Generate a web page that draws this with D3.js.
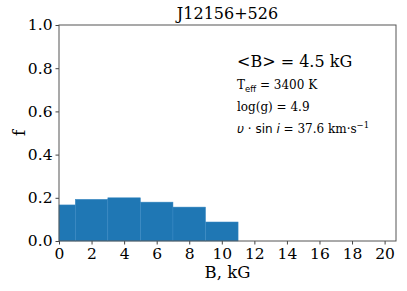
<!DOCTYPE html>
<html>
<head>
<meta charset="utf-8">
<script src="https://cdn.jsdelivr.net/npm/d3@7"></script>
<style>
  body { margin: 0; background: #fff; }
  text { font-family: "DejaVu Serif", serif; fill: #000; }
</style>
</head>
<body>
<div id="chart"></div>
<script>
const binEdges = [0, 1, 3, 5, 7, 9, 11];
const binValues = [0.167, 0.193, 0.2, 0.18, 0.157, 0.088];
const xTicks = [0, 2, 4, 6, 8, 10, 12, 14, 16, 18, 20];
const yTicks = [0, 0.2, 0.4, 0.6, 0.8, 1.0];
const title = 'J12156+526';

const width = 407, height = 291;
const margin = {top: 25, right: 11, bottom: 50, left: 59};
const w = width - margin.left - margin.right;
const h = height - margin.top - margin.bottom;

const bins = binValues.map((v, i) => ({x0: binEdges[i], x1: binEdges[i + 1], f: v}));

const xScale = d3.scaleLinear().domain([0, 20.7]).range([0, w]);
const yScale = d3.scaleLinear().domain([0, 1]).range([h, 0]);

const svg = d3.select('#chart').append('svg')
	.attr('width', width)
	.attr('height', height);

const g = svg.append('g')
	.attr('transform', `translate(${margin.left}, ${margin.top})`);

g.selectAll('.bar')
	.data(bins)
	.enter()
	.append('rect')
	.attr('x', d => xScale(d.x0))
	.attr('y', d => yScale(d.f))
	.attr('width', d => xScale(d.x1) - xScale(d.x0))
	.attr('height', d => h - yScale(d.f))
	.attr('fill', '#1f77b4')
	.attr('stroke', '#3a8ac4')
	.attr('stroke-width', 0.5);

const xAxis = g.append('g')
	.attr('transform', `translate(0, ${h})`)
	.call(d3.axisBottom(xScale).tickValues(xTicks).tickSize(3.5).tickPadding(2).tickFormat(d3.format('d')));

const yAxis = g.append('g')
	.call(d3.axisLeft(yScale).tickValues(yTicks).tickSize(3.5).tickPadding(3).tickFormat(d3.format('.1f')));

[xAxis, yAxis].forEach(a => {
	a.select('.domain').remove();
	a.selectAll('line').attr('stroke', '#444');
	a.selectAll('text').style('font-family', '"DejaVu Serif", serif').style('font-size', '15.5px').attr('fill', '#000');
});
xAxis.selectAll('text').attr('dy', '0.78em');

g.append('rect')
	.attr('width', w)
	.attr('height', h)
	.attr('fill', 'none')
	.attr('stroke', '#555')
	.attr('stroke-width', 1);

svg.append('text')
	.attr('x', margin.left + w / 2)
	.attr('y', 19)
	.attr('text-anchor', 'middle')
	.style('font-size', '16px')
	.text(title);

svg.append('text')
	.attr('x', margin.left + w / 2)
	.attr('y', 278)
	.attr('text-anchor', 'middle')
	.style('font-size', '16.5px')
	.text('B, kG');

svg.append('text')
	.attr('transform', `translate(25, ${margin.top + h / 2}) rotate(-90)`)
	.attr('text-anchor', 'middle')
	.style('font-size', '16.5px')
	.text('f');

// annotation block
const ax = 237;
svg.append('text')
	.attr('x', ax).attr('y', 67)
	.style('font-size', '16px')
	.text('<B> = 4.5 kG');

const t1 = svg.append('text').attr('x', ax).attr('y', 89).style('font-size', '12px');
t1.append('tspan').text('T');
t1.append('tspan').attr('dy', 2.5).style('font-size', '8.5px').style('font-family', '"DejaVu Sans", sans-serif').text('eff');
t1.append('tspan').attr('dy', -2.5).text(' = 3400 K');

svg.append('text')
	.attr('x', ax).attr('y', 111)
	.style('font-size', '12px')
	.text('log(g) = 4.9');

const t3 = svg.append('text').attr('x', ax).attr('y', 132.5).style('font-size', '12px');
t3.append('tspan').style('font-style', 'italic').style('font-family', '"DejaVu Sans", sans-serif').text('υ');
t3.append('tspan').text(' · ');
t3.append('tspan').style('font-family', '"DejaVu Sans", sans-serif').text('sin ');
t3.append('tspan').style('font-style', 'italic').style('font-family', '"DejaVu Sans", sans-serif').text('i');
t3.append('tspan').text(' = 37.6 km·s');
t3.append('tspan').attr('dy', -5).style('font-size', '8.5px').text('−1');
</script>
</body>
</html>
